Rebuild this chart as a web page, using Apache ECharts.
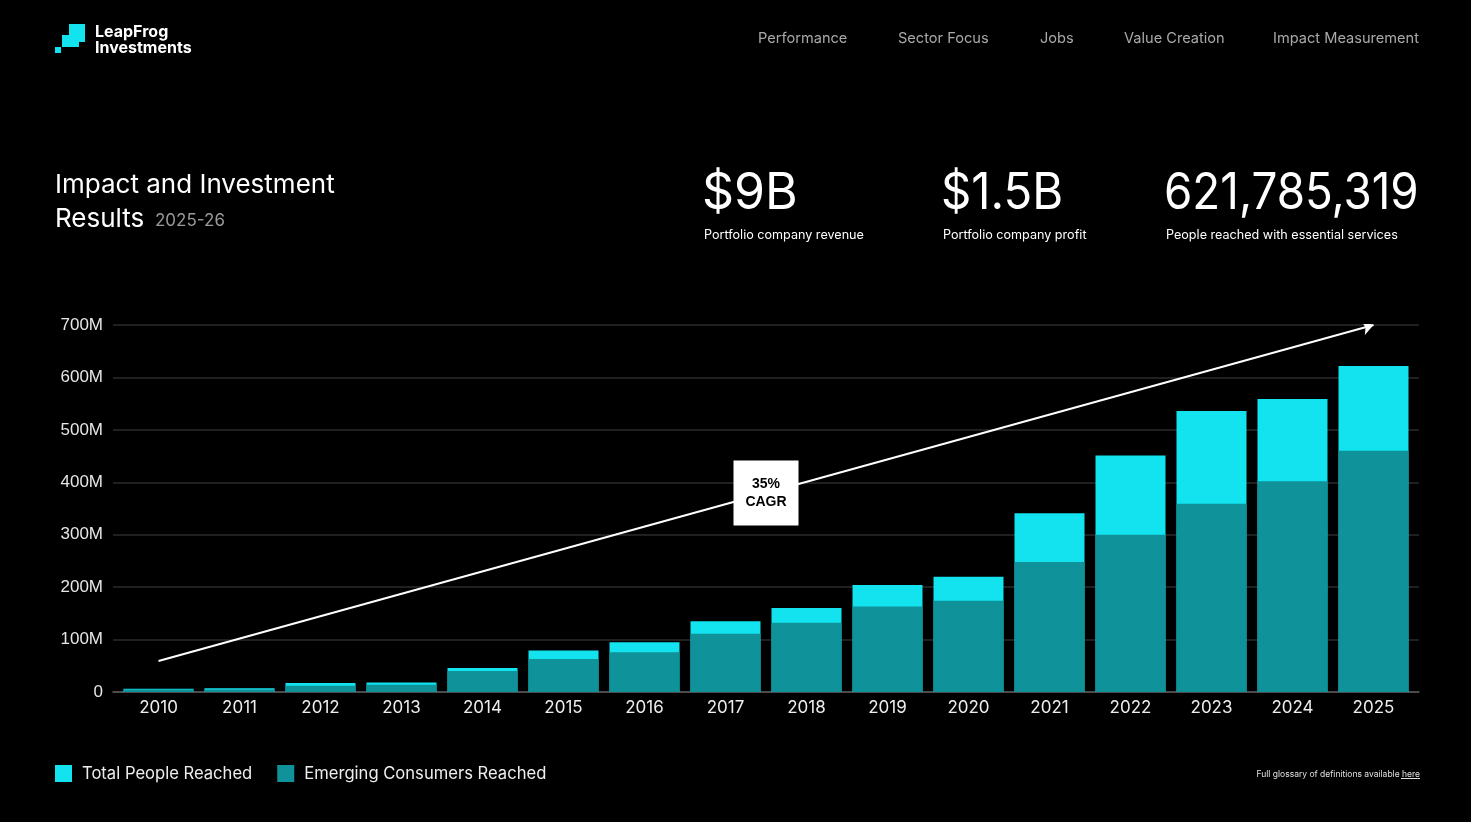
<!DOCTYPE html>
<html>
<head>
<meta charset="utf-8">
<script src="https://cdn.jsdelivr.net/npm/echarts@6/dist/echarts.min.js"></script>
<style>
  html, body { margin: 0; padding: 0; background: #000; }
  #chart { width: 1471px; height: 822px; }
</style>
</head>
<body>
<div id="chart"></div>
<script>
// values, in millions of people
const years = ['2010', '2011', '2012', '2013', '2014', '2015', '2016', '2017',
  '2018', '2019', '2020', '2021', '2022', '2023', '2024', '2025'];
const totalReached = [6, 7, 17, 18, 46, 79, 95, 135, 160, 204, 220, 341, 451, 536, 559, 621.8];
const emergingReached = [5, 5, 12, 14, 40, 63, 76, 111, 132, 163, 174, 248, 300, 359, 402, 460];
const yTicks = [0, 100, 200, 300, 400, 500, 600, 700];
const trendLine = [[0, 59], [15, 700]]; // 2010 -> 2025
const cagrLabel = '35%\nCAGR';
const navItems = ['Performance', 'Sector Focus', 'Jobs', 'Value Creation', 'Impact Measurement'];
const stats = [
  { value: '$9B', caption: 'Portfolio company revenue' },
  { value: '$1.5B', caption: 'Portfolio company profit' },
  { value: '621,785,319', caption: 'People reached with essential services' },
];

const CYAN = '#13E3EF';
const TEAL = '#0F9299';
const FONT = 'Inter, "Noto Sans", sans-serif';

const chart = echarts.init(document.getElementById('chart'), null, { renderer: 'canvas' });

// plain text helper for the page furniture
function txt(text, x, y, size, color, opts) {
  opts = opts || {};
  return {
    type: 'text',
    x: x, y: y,
    scaleX: opts.scaleX || 1,
    style: {
      text: text,
      fill: color,
      font: (opts.weight || 'normal') + ' ' + size + 'px ' + FONT,
      textAlign: opts.align || 'left',
      textVerticalAlign: 'middle',
      align: opts.align || 'left',
      verticalAlign: 'middle',
    },
  };
}

const navX = [758, 898, 1040, 1124, 1273];
const statX = [704, 943, 1166];
const statSquash = [1, 0.945, 0.915]; // the site font has narrower digits than Inter

const graphics = [
  // logo mark
  { type: 'rect', shape: { x: 69, y: 24, width: 16, height: 18 }, style: { fill: CYAN } },
  { type: 'rect', shape: { x: 62, y: 35, width: 17, height: 12 }, style: { fill: CYAN } },
  { type: 'rect', shape: { x: 55, y: 47, width: 6, height: 6 }, style: { fill: CYAN } },
  txt('LeapFrog', 95, 32, 16, '#fff', { weight: 'bold' }),
  txt('Investments', 95, 48, 16, '#fff', { weight: 'bold' }),
  txt('Impact and Investment', 55, 185, 26, '#fff'),
  txt('Results', 55, 219, 26, '#fff'),
  txt('2025-26', 155, 221, 17, '#9a9a9a'),
  txt('Full glossary of definitions available here', 1420, 774, 8.5, '#e0e0e0', { align: 'right' }),
  { type: 'line', shape: { x1: 1401, y1: 778.5, x2: 1420, y2: 778.5 }, style: { stroke: '#e0e0e0', lineWidth: 1 } },
];
navItems.forEach((n, i) => graphics.push(txt(n, navX[i], 39, 14.6, '#a9a9a9')));
stats.forEach((s, i) => {
  graphics.push(txt(s.value, statX[i] - 2, 194, 50, '#fff', { scaleX: statSquash[i] }));
  graphics.push(txt(s.caption, statX[i], 235, 12.6, '#fff'));
});

chart.setOption({
  backgroundColor: '#000',
  animation: false,
  textStyle: { fontFamily: FONT },
  graphic: { elements: graphics },
  legend: {
    left: 55, top: 765, padding: 0,
    icon: 'rect', itemWidth: 17, itemHeight: 17, itemGap: 25,
    data: ['Total People Reached', 'Emerging Consumers Reached'],
    textStyle: { color: '#eee', fontSize: 16.6, fontFamily: FONT, padding: [2, 0, 0, 5] },
  },
  grid: [
    { left: 113, right: 52, top: 325, bottom: 130 }, // gridlines + axis line
    { left: 118, right: 57, top: 325, bottom: 130 }, // bars
  ],
  xAxis: [
    { type: 'value', gridIndex: 0, show: true, min: 0, max: 1,
      axisLine: { show: true, lineStyle: { color: '#5a5a5a', width: 1.5 } },
      axisTick: { show: false }, axisLabel: { show: false }, splitLine: { show: false } },
    { type: 'category', gridIndex: 1, data: years,
      axisLine: { show: false }, axisTick: { show: false },
      axisLabel: { color: '#eee', fontSize: 17, margin: 7, fontFamily: FONT } },
    { type: 'value', gridIndex: 1, min: -0.5, max: 15.5, show: false },
  ],
  yAxis: [
    { type: 'value', gridIndex: 0, min: 0, max: 700, interval: 100,
      axisLine: { show: false }, axisTick: { show: false },
      axisLabel: { color: '#e6e6e6', fontSize: 17, margin: 10, fontFamily: 'Liberation Sans, sans-serif',
        formatter: v => (yTicks.indexOf(v) < 0 ? '' : (v === 0 ? '0' : v + 'M')) },
      splitLine: { lineStyle: { color: '#2b2b2b', width: 1.5 } } },
    { type: 'value', gridIndex: 1, min: 0, max: 700, interval: 100, show: false, splitLine: { show: false } },
  ],
  series: [
    { name: 'Total People Reached', type: 'bar', xAxisIndex: 1, yAxisIndex: 1,
      data: totalReached, barWidth: 70, itemStyle: { color: CYAN } },
    { name: 'Emerging Consumers Reached', type: 'bar', xAxisIndex: 1, yAxisIndex: 1,
      data: emergingReached, barWidth: 70, barGap: '-100%', itemStyle: { color: TEAL } },
    { type: 'lines', coordinateSystem: 'cartesian2d', xAxisIndex: 2, yAxisIndex: 1, z: 5,
      symbol: ['none', 'arrow'], symbolSize: 11,
      lineStyle: { color: '#fff', width: 2, opacity: 1 },
      data: [{ coords: trendLine }] },
    { type: 'scatter', xAxisIndex: 2, yAxisIndex: 1, z: 6,
      symbol: 'rect', symbolSize: 65, itemStyle: { color: '#fff', opacity: 1 },
      data: [[(trendLine[0][0] + trendLine[1][0]) / 2, (trendLine[0][1] + trendLine[1][1]) / 2]],
      label: { show: true, position: 'inside', formatter: cagrLabel, color: '#000',
        fontSize: 14, fontWeight: 'bold', lineHeight: 18, fontFamily: 'Liberation Sans, sans-serif' } },
  ],
});
</script>
</body>
</html>
